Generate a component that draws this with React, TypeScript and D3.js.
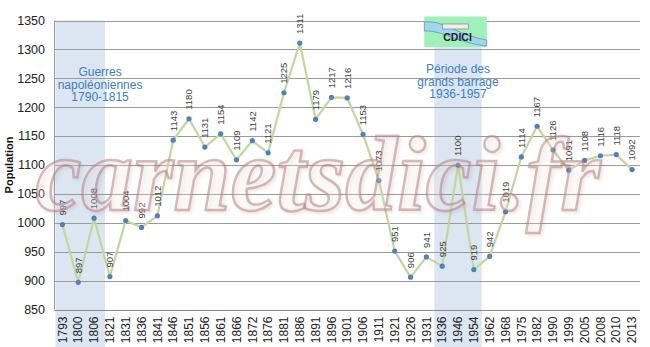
import React from "react";
import * as d3 from "d3";

const years = ["1793","1800","1806","1821","1831","1836","1841","1846","1851","1856","1861","1866","1872","1876","1881","1886","1891","1896","1901","1906","1911","1921","1926","1931","1936","1946","1954","1962","1968","1975","1982","1990","1999","2005","2008","2010","2013"];
const population = [997,897,1008,907,1004,992,1012,1143,1180,1131,1154,1109,1142,1121,1225,1311,1179,1217,1216,1153,1073,951,906,941,925,1100,919,942,1019,1114,1167,1126,1091,1108,1116,1118,1092];
const yTicks = [850,900,950,1000,1050,1100,1150,1200,1250,1300,1350];
const napoleonLines = ["Guerres","napoléoniennes","1790-1815"];
const damLines = ["Période des","grands barrage","1936-1957"];

const W = 650, H = 347;
const left = 54.5, right = 640, top = 20.5, bottom = 309.5;

export default function App() {
  const x = d3.scaleBand().domain(years).range([left, right]).padding(0);
  const y = d3.scaleLinear().domain([850, 1350]).range([bottom, top]);
  const cx = (yr: string) => (x(yr) as number) + x.bandwidth() / 2;
  const line = d3.line<number>().x((_, i) => cx(years[i])).y(d => y(d));
  const font = "'Liberation Sans', Arial, sans-serif";
  const b1x0 = (x("1793") as number) + 1;
  const b1x1 = (x("1821") as number) + 3;
  const b2x0 = x("1936") as number;
  const b2x1 = (x("1962") as number);
  const logoX0 = b2x0 - 10, logoX1 = b2x1 + 5;
  return (
    <svg width={W} height={H} style={{ position: "absolute", left: 0, top: 0, background: "#fff" }}>
      <rect x={0} y={0} width={W} height={H} fill="#fff" />
      {/* shaded periods */}
      <rect x={b1x0} y={top} width={b1x1 - b1x0} height={H - top} fill="#dce6f2" />
      <rect x={b2x0} y={47} width={b2x1 - b2x0} height={H - 47} fill="#dce6f2" />
      {/* grid */}
      {yTicks.map(t => (
        <line key={t} x1={left} x2={right} y1={Math.round(y(t)) + 0.5} y2={Math.round(y(t)) + 0.5} stroke={t === 850 ? "#8a8a8a" : "#9a9a9a"} strokeWidth={1} />
      ))}
      <line x1={left} x2={left} y1={top} y2={bottom} stroke="#9a9a9a" />
      {yTicks.map(t => (
        <text key={t} x={45} y={y(t)} dy="0.35em" textAnchor="end" fontFamily={font} fontSize={12.5} fill="#222">{t}</text>
      ))}
      <text transform={`translate(13,${(top + bottom) / 2}) rotate(-90)`} textAnchor="middle" fontFamily={font} fontWeight="bold" fontSize={11} fill="#111">Population</text>
      {years.map(yr => (
        <text key={yr} transform={`translate(${cx(yr)},${bottom + 7}) rotate(-90)`} textAnchor="end" dy="0.35em" fontFamily={font} fontSize={12} fill="#222">{yr}</text>
      ))}
      {/* annotations */}
      {napoleonLines.map((s, i) => (
        <text key={s} x={cx("1806") + 6} y={72 + i * 12.5} dy="0.35em" textAnchor="middle" fontFamily={font} fontSize={12} fill="#3a80c0">{s}</text>
      ))}
      {damLines.map((s, i) => (
        <text key={s} x={(b2x0 + b2x1) / 2} y={69 + i * 12.3} dy="0.35em" textAnchor="middle" fontFamily={font} fontSize={12} fill="#3a80c0">{s}</text>
      ))}
      {/* logo */}
      <g>
        <rect x={logoX0} y={16.5} width={logoX1 - logoX0} height={30.5} fill="#9ff0bb" />
        <path d={`M${logoX0},22 C${logoX0 + 20},20 ${logoX0 + 30},34 ${logoX1},40 L${logoX1},46 C${logoX0 + 30},42 ${logoX0 + 18},30 ${logoX0},31 Z`} fill="#9fd6f2" stroke="#5a7a8a" strokeWidth={0.6} />
        <rect x={(logoX0 + logoX1) / 2 - 13} y={24} width={26} height={5} fill="#eee" stroke="#777" strokeWidth={0.6} />
        <text x={(logoX0 + logoX1) / 2 + 2} y={37} dy="0.35em" textAnchor="middle" fontFamily={font} fontWeight="bold" fontSize={10.5} fill="#222">CDICI</text>
      </g>
      {/* series */}
      <path d={line(population) || ""} fill="none" stroke="#c3d69b" strokeWidth={2.2} strokeLinejoin="round" />
      {population.map((v, i) => (
        <circle key={i} cx={cx(years[i])} cy={y(v)} r={2.6} fill="#4f81bd" />
      ))}
      {population.map((v, i) => (
        <text key={i} transform={`translate(${cx(years[i])},${y(v) - 9}) rotate(-90)`} dy="0.35em" textAnchor="start" fontFamily={font} fontSize={9.5} fill="#404040">{v}</text>
      ))}
      {/* watermark */}
      <text x={318} y={210} textAnchor="middle" textLength={565} lengthAdjust="spacingAndGlyphs" fontFamily="'Liberation Serif', serif" fontStyle="italic" fontWeight="bold" fontSize={106} fill="rgba(255,255,255,0.2)" stroke="rgba(175,120,120,0.5)" strokeWidth={2.5} style={{ filter: "drop-shadow(2px 2px 1.5px rgba(170,120,120,0.35))" }}>carnetsdici.fr</text>
    </svg>
  );
}
